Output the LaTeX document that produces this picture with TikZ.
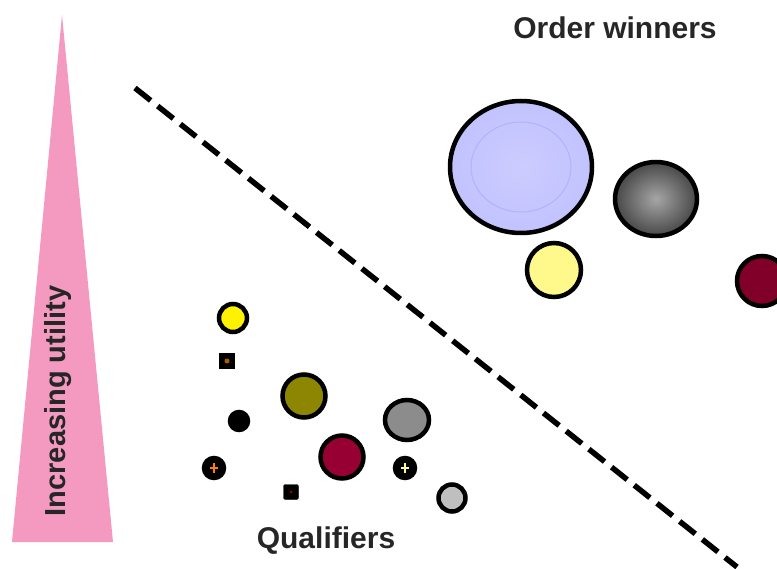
\documentclass[tikz,border=0pt]{standalone}
\usepackage{fontspec}
\setmainfont{Liberation Sans}
\usetikzlibrary{shapes.geometric}
\definecolor{utilpink}{RGB}{244,154,193}
\definecolor{wine}{RGB}{150,0,50}
\begin{document}
\begin{tikzpicture}[x=1pt,y=-1pt,
  blob/.style={circle,draw=black,line width=4.5pt,inner sep=0pt},
  oblob/.style={ellipse,draw=black,line width=4.5pt,inner sep=0pt},
  lbl/.style={font=\bfseries\fontsize{30}{34}\selectfont,text=black!85},
  divider/.style={line width=5.5pt,dash pattern=on 20pt off 9pt}]
\useasboundingbox (0,0) rectangle (777,569);
% utility triangle
\fill[utilpink] (62,15) -- (113,542) -- (12,542) -- cycle;
\node[lbl,rotate=90,font=\bfseries\fontsize{29}{32}\selectfont] (util) at (58,401) {Increasing utility};
% divider
\coordinate (d1) at (135,88);
\coordinate (d2) at (737,567);
\draw[divider] (d1) -- (d2);
\node[lbl] (ow) at (615,28) {Order winners};
\node[lbl] (q) at (326,541) {Qualifiers};
% order winners
\node[oblob,minimum width=142pt,minimum height=132pt,inner color=blue!20,outer color=blue!24] (b1) at (521,167) {};
\draw[blue!30,line width=1pt] (b1.center) ellipse (50 and 45);
\node[oblob,minimum width=82pt,minimum height=74pt,inner color=black!35,outer color=black!72] (b2) at (656,199) {};
\node[blob,minimum size=54pt,fill=yellow!45] (b3) at (554,270) {};
\node[blob,minimum size=50pt,fill=wine!85!black] (b4) at (762,281) {};
% qualifiers
\node[blob,minimum size=28pt,fill=yellow] (q1) at (233,318) {};
\node[draw=black,fill=black,minimum size=15pt,inner sep=0pt] (q2) at (227,361) {};
\fill[orange!70!black] (q2.center) circle (2.5);
\node[blob,minimum size=43pt,fill=olive] (q3) at (304,396) {};
\node[blob,minimum size=18pt,fill=black] (q4) at (239,421) {};
\node[oblob,minimum width=44pt,minimum height=40pt,fill=black!45] (q5) at (407,420) {};
\node[blob,minimum size=43pt,fill=wine] (q6) at (342,457) {};
\node[blob,minimum size=20pt,fill=black] (q7) at (214,468) {};
\draw[orange,line width=1.5pt] ([yshift=-5pt]q7.center) -- ([yshift=5pt]q7.center) ([xshift=-4pt]q7.center) -- ([xshift=4pt]q7.center);
\node[draw=black,fill=black,minimum size=15pt,inner sep=0pt,rounded corners=2pt] (q8) at (291,492) {};
\fill[red!60!black] (q8.center) circle (1.5);
\node[blob,minimum size=20pt,fill=black] (q9) at (405,468) {};
\draw[yellow!40,line width=1.5pt] ([yshift=-5pt]q9.center) -- ([yshift=5pt]q9.center) ([xshift=-4pt]q9.center) -- ([xshift=4pt]q9.center);
\node[blob,minimum size=27pt,fill=black!25] (q10) at (452,498) {};
\end{tikzpicture}
\end{document}
